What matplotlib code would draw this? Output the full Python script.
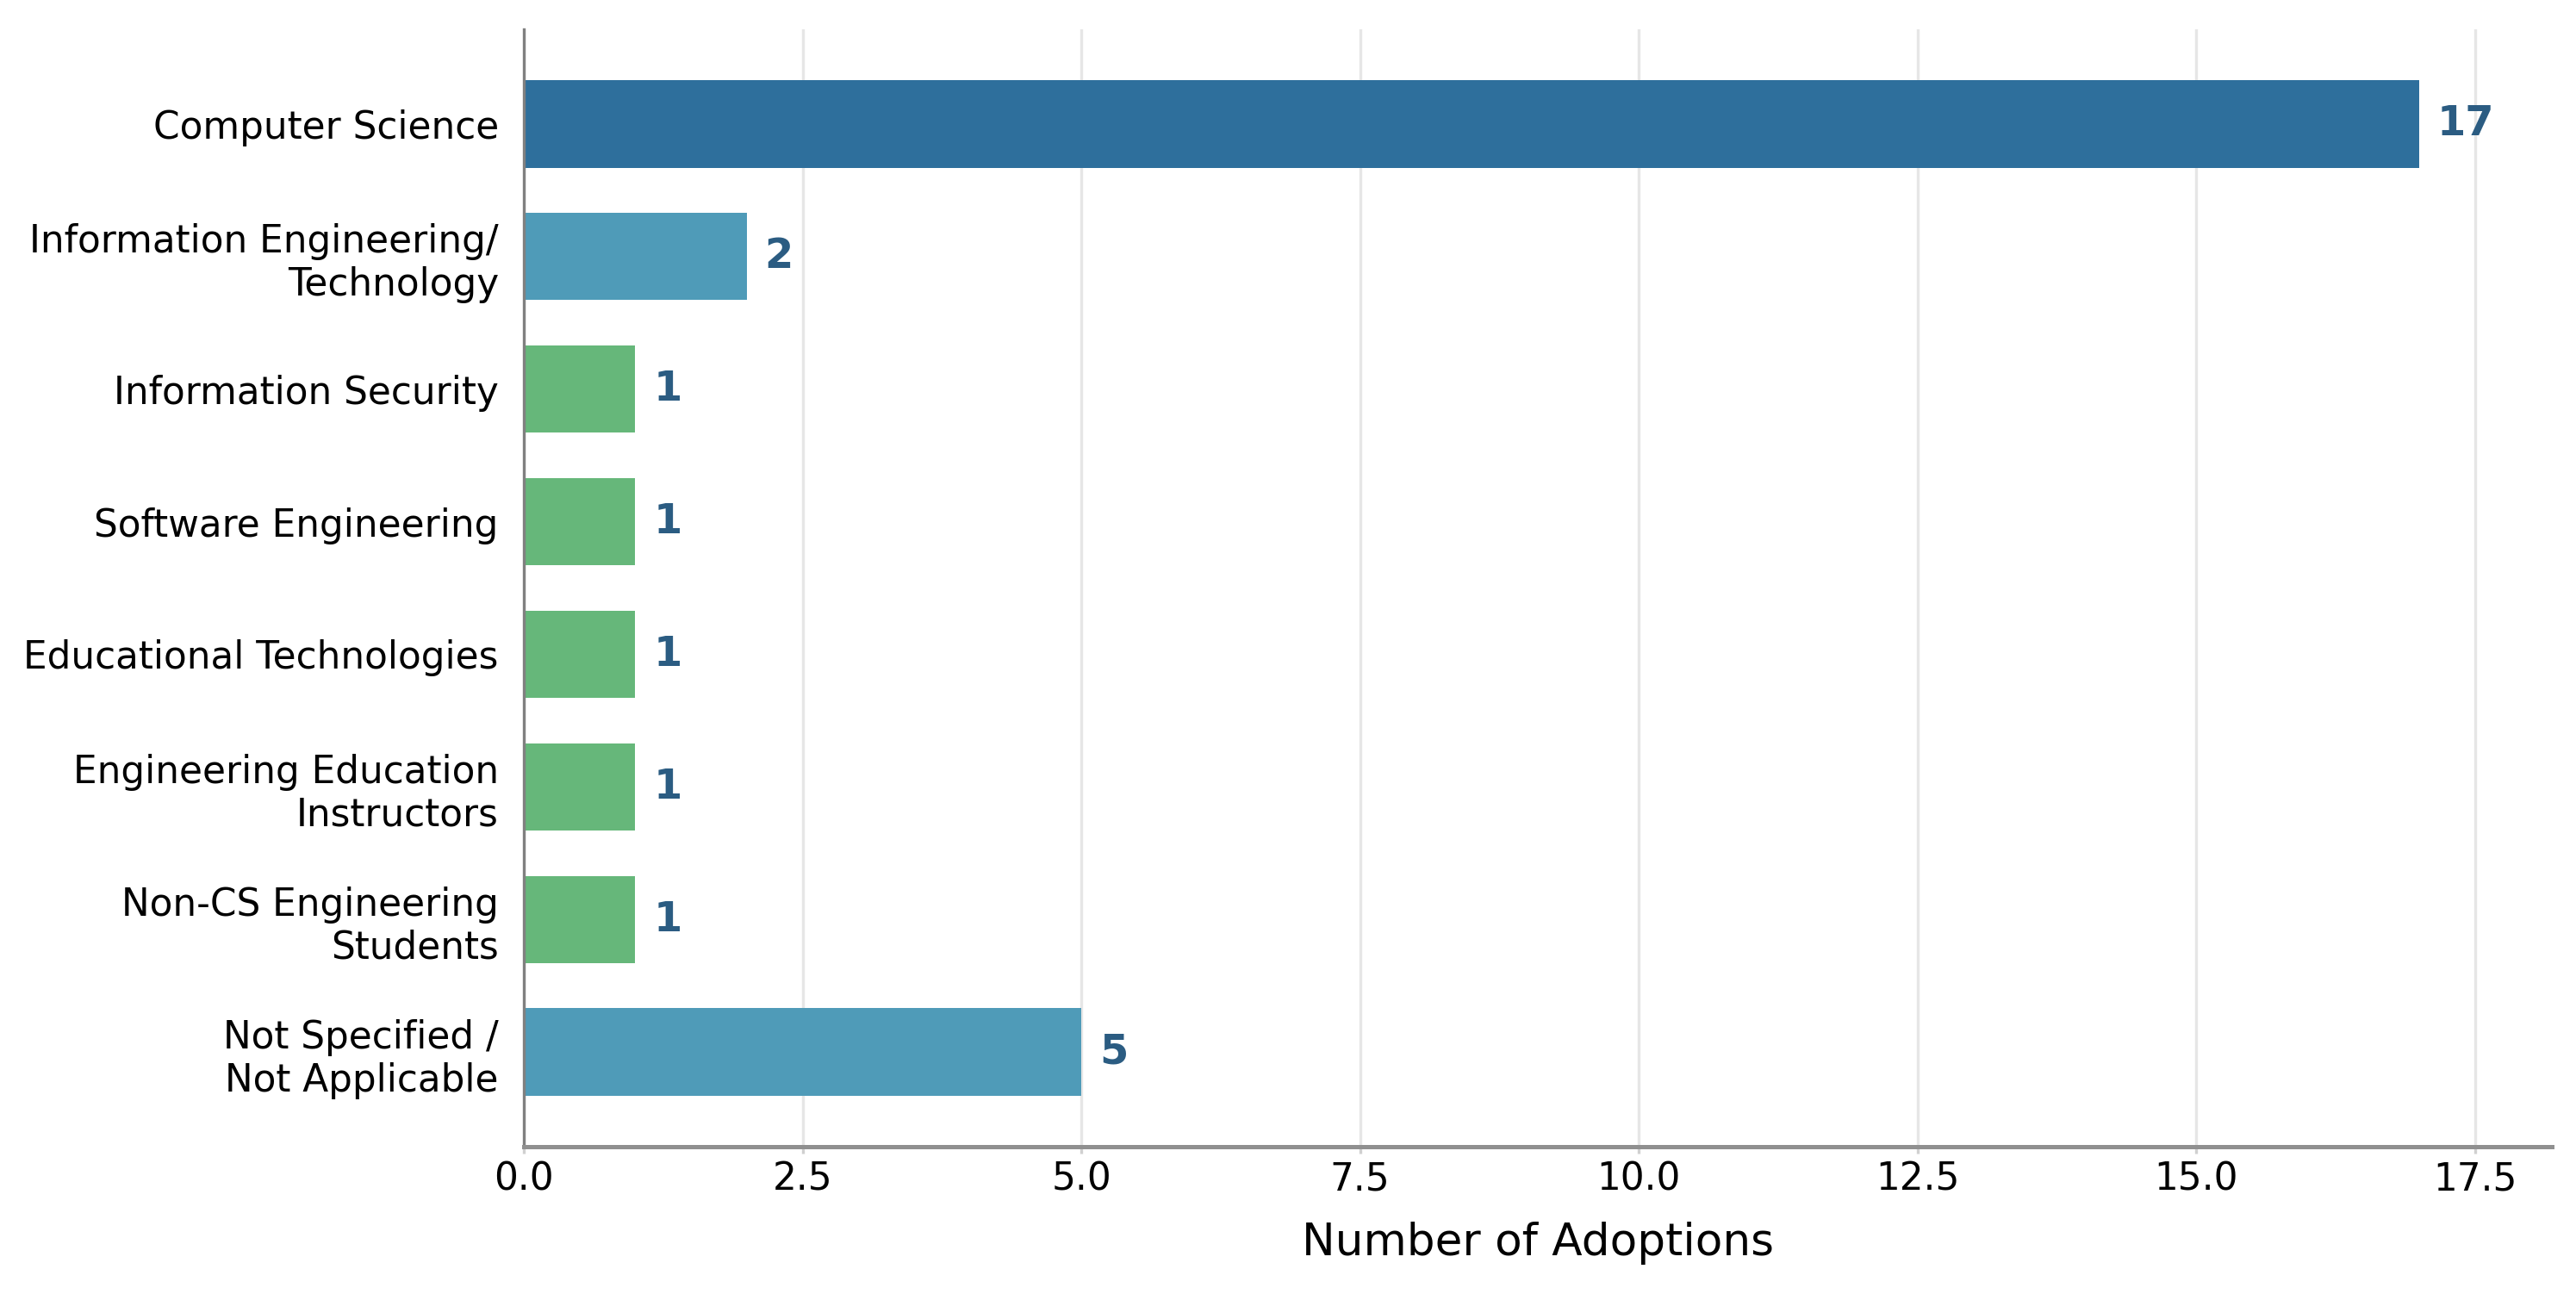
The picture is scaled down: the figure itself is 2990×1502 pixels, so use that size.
import matplotlib
matplotlib.use("Agg")
import matplotlib.pyplot as plt

categories = [
    "Computer Science",
    "Information Engineering/\nTechnology",
    "Information Security",
    "Software Engineering",
    "Educational Technologies",
    "Engineering Education\nInstructors",
    "Non-CS Engineering\nStudents",
    "Not Specified /\nNot Applicable",
]
adoptions = [17, 2, 1, 1, 1, 1, 1, 5]
bar_colors = ["#2E6F9C", "#4F9BB8", "#66B77A", "#66B77A", "#66B77A",
              "#66B77A", "#66B77A", "#4F9BB8"]
label_color = "#2B5C82"

plt.rcParams['font.family'] = ['DejaVu Sans']
fig = plt.figure(figsize=(2990 / 300, 1502 / 300), dpi=300)
ax = fig.add_axes([608 / 2990, 1 - 1331 / 1502, (2962 - 608) / 2990, (1331 - 34) / 1502])

ypos = list(range(len(categories)))
ax.barh(ypos, adoptions, height=0.66, color=bar_colors, zorder=2)
ax.set_yticks(ypos)
ax.set_yticklabels(categories, fontsize=10.5)
ax.invert_yaxis()
ax.set_xlim(0, max(adoptions) * 1.07)

for y, v in zip(ypos, adoptions):
    ax.text(v + 0.16, y, str(v), va='center', ha='left', fontsize=11.5,
            fontweight='bold', color=label_color)

ax.set_xticks([0, 2.5, 5, 7.5, 10, 12.5, 15, 17.5])
ax.set_xticklabels(["0.0", "2.5", "5.0", "7.5", "10.0", "12.5", "15.0", "17.5"], fontsize=10.5)
ax.set_xlabel("Number of Adoptions", fontsize=12.4, labelpad=6.5)

ax.grid(axis='x', color='#E6E6E6', linewidth=0.8, zorder=0)
ax.set_axisbelow(True)
for s in ['top', 'right']:
    ax.spines[s].set_visible(False)
ax.spines['left'].set_color('#808080')
ax.spines['left'].set_linewidth(0.8)
ax.spines['bottom'].set_color('#909090')
ax.spines['bottom'].set_linewidth(1.2)
ax.tick_params(axis='y', length=0, pad=7)
ax.tick_params(axis='x', length=2, color='#D0D0D0', pad=2)

fig.savefig("out.png", dpi=300, facecolor='white')
